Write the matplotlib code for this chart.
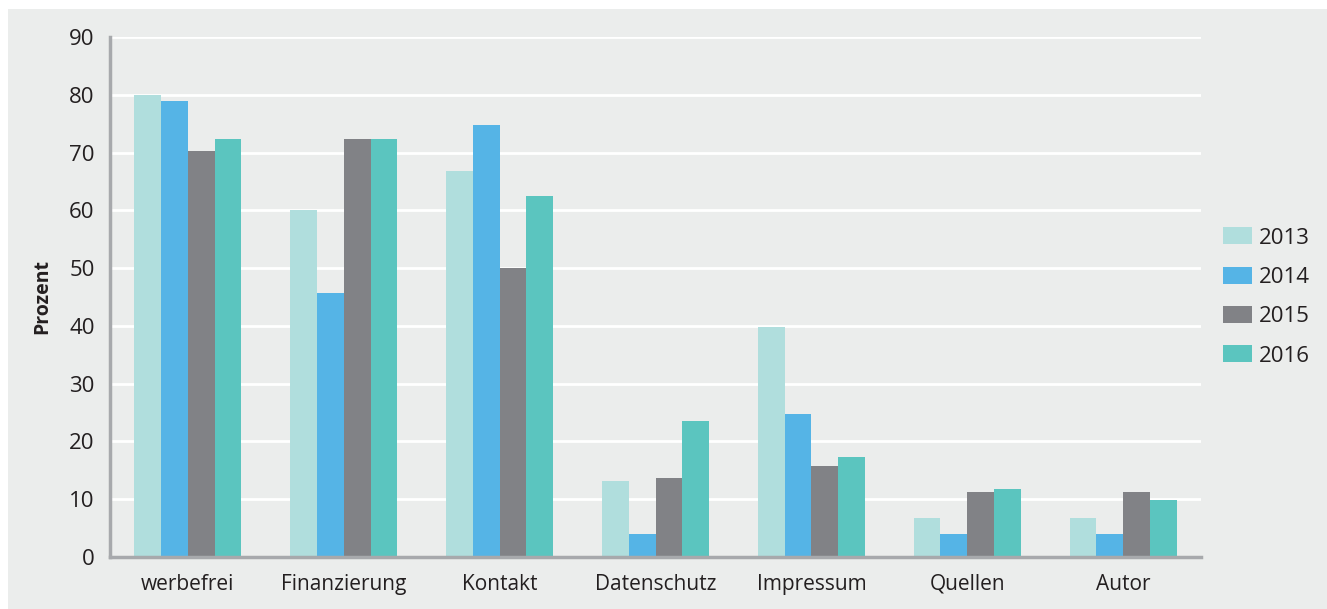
import matplotlib.pyplot as plt
import matplotlib.patches as mpatches
import numpy as np

plt.rcParams['font.family'] = ['Open Sans', 'DejaVu Sans']

# Daten
kategorien = ["werbefrei", "Finanzierung", "Kontakt", "Datenschutz", "Impressum", "Quellen", "Autor"]
jahre = ["2013", "2014", "2015", "2016"]
werte_2013 = [80, 60, 66.8, 13.1, 39.8, 6.7, 6.7]
werte_2014 = [79, 45.7, 74.7, 4.0, 24.7, 4.0, 4.0]
werte_2015 = [70.2, 72.3, 50, 13.7, 15.7, 11.2, 11.2]
werte_2016 = [72.3, 72.3, 62.4, 23.5, 17.3, 11.8, 9.9]
farben = ["#b0dedd", "#55b4e6", "#818286", "#5bc5bf"]

bg = "#ebedec"
fig = plt.figure(figsize=(13.27, 6.09), dpi=100)
fig.patch.set_facecolor("white")
fig.patches.append(mpatches.Rectangle((8 / 1327, 0), 1, 1 - 9 / 609,
                                      transform=fig.transFigure, facecolor=bg,
                                      edgecolor="none", zorder=-10))

ax = fig.add_axes([110 / 1327, 1 - 557 / 609, (1201 - 110) / 1327, (557 - 37) / 609])
ax.set_facecolor(bg)

x = np.arange(len(kategorien))
breite = 0.1715
alle = [werte_2013, werte_2014, werte_2015, werte_2016]
for i, (werte, farbe, jahr) in enumerate(zip(alle, farben, jahre)):
    ax.bar(x + (i - 1.5) * breite, werte, breite, color=farbe, label=jahr, zorder=3)

ax.set_xlim(-0.5, len(kategorien) - 0.5)
ax.set_ylim(0, 90)
ax.set_yticks(range(0, 91, 10))
ax.set_xticks(x, kategorien)
ax.grid(axis="y", color="white", linewidth=2, zorder=0)
ax.tick_params(axis="both", length=0, colors="#231f20")
ax.tick_params(axis="x", pad=12, labelsize=15)
ax.tick_params(axis="y", pad=11, labelsize=16)
for s in ["top", "right"]:
    ax.spines[s].set_visible(False)
for s in ["left", "bottom"]:
    ax.spines[s].set_color("#a7a9ac")
    ax.spines[s].set_linewidth(2.5)
    ax.spines[s].set_zorder(4)

ax.set_ylabel("Prozent", fontsize=14, fontweight="bold", color="#231f20", labelpad=12)

leg = ax.legend(loc="center left", frameon=False, borderaxespad=0, borderpad=0,
                fontsize=16, handlelength=1.3, handleheight=0.78, labelspacing=0.82,
                handletextpad=0.3)
leg.set_bbox_to_anchor((1.0202, 0.5), transform=ax.transAxes)
for t in leg.get_texts():
    t.set_color("#231f20")

plt.savefig("out.png", dpi=100, facecolor=fig.get_facecolor())
